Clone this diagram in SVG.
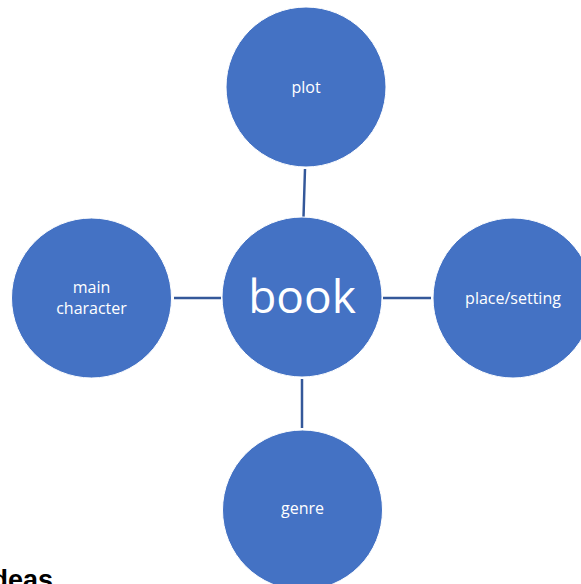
<svg xmlns="http://www.w3.org/2000/svg" width="581" height="584" viewBox="0 0 581 584">
<style>
.node{fill:#4472C4;stroke:#ffffff;stroke-width:1}
.lbl{fill:#ffffff;font-family:"Open Sans","Noto Sans",sans-serif;font-size:16px;text-anchor:middle}
.big{font-size:46px}
.conn line{stroke:#34589A;stroke-width:2.5}
</style>
<rect width="581" height="584" fill="#ffffff"/>
<g id="connectors" class="conn">
<line x1="305" y1="169" x2="303.5" y2="217"/>
<line x1="174" y1="298" x2="221" y2="298"/>
<line x1="383" y1="298" x2="431" y2="298"/>
<line x1="302" y1="379" x2="302" y2="428"/>
</g>
<g id="plot"><circle class="node" cx="306" cy="87" r="80"/><text class="lbl" x="306" y="93">plot</text></g>
<g id="book"><circle class="node" cx="302" cy="297" r="80"/><text class="lbl big" x="302" y="313">book</text></g>
<g id="main-character"><circle class="node" cx="91.5" cy="298" r="80"/><text class="lbl" x="91.5" y="293">main</text><text class="lbl" x="91.5" y="314">character</text></g>
<g id="place-setting"><circle class="node" cx="513" cy="298" r="80"/><text class="lbl" x="513" y="304">place/setting</text></g>
<g id="genre"><circle class="node" cx="302.5" cy="510" r="80"/><text class="lbl" x="302.5" y="514">genre</text></g>
<text x="-16" y="589" font-family="Liberation Sans,Arial,sans-serif" font-weight="bold" font-size="27" fill="#000000">Ideas</text>
</svg>
